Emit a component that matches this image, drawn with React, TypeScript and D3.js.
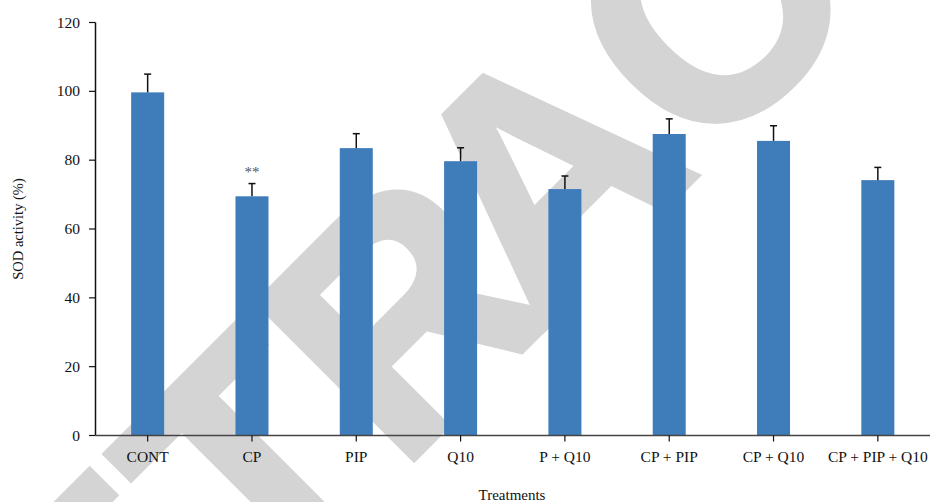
import React from "react";
import * as d3 from "d3";

const categories = ["CONT", "CP", "PIP", "Q10", "P + Q10", "CP + PIP", "CP + Q10", "CP + PIP + Q10"];
const means = [99.7, 69.5, 83.5, 79.7, 71.6, 87.6, 85.6, 74.2];
const errors = [5.3, 3.7, 4.2, 3.9, 3.8, 4.4, 4.4, 3.7];
const yTicks = [0, 20, 40, 60, 80, 100, 120];
const significance = ["", "**", "", "", "", "", "", ""];

const W = 930;
const H = 502;
const FONT = "'Liberation Serif', 'Times New Roman', serif";

export default function App() {
  const x = d3.scaleBand<string>().domain(categories).range([95.5, 930]).padding(0);
  const y = d3.scaleLinear().domain([0, 120]).range([435.5, 22.5]);
  const barW = 33;
  const capW = 7;

  return (
    <svg width={W} height={H} style={{ position: "absolute", left: 0, top: 0, background: "#fff" }}>
      {/* diagonal retraction stamp behind the chart */}
      <text
        transform="translate(-56.5,929.5) rotate(-45)"
        fontFamily="'Liberation Sans', Arial, sans-serif"
        fontWeight="bold"
        fontSize={322}
        fill="#d4d4d4"
        stroke="#d4d4d4"
        strokeWidth={6}
        strokeLinejoin="miter"
      >
        RETR<tspan dx={-35}>ACTED</tspan>
      </text>

      {/* bars */}
      {categories.map((c, i) => {
        const cx = (x(c) as number) + x.bandwidth() / 2;
        return (
          <rect key={c} x={cx - barW / 2} y={y(means[i])} width={barW} height={y(0) - y(means[i])} fill="#3e7cba" />
        );
      })}

      {/* error bars */}
      {categories.map((c, i) => {
        const cx = (x(c) as number) + x.bandwidth() / 2;
        const top = y(means[i] + errors[i]);
        return (
          <g key={c} stroke="#111" strokeWidth={1.5}>
            <line x1={cx} x2={cx} y1={y(means[i])} y2={top} />
            <line x1={cx - capW / 2} x2={cx + capW / 2} y1={top} y2={top} />
          </g>
        );
      })}

      {/* significance marks */}
      {categories.map((c, i) =>
        significance[i] ? (
          <text
            key={c}
            x={(x(c) as number) + x.bandwidth() / 2}
            y={y(means[i] + errors[i]) - 7}
            textAnchor="middle"
            fontFamily={FONT}
            fontSize={15}
            fill="#555"
          >
            {significance[i]}
          </text>
        ) : null
      )}

      {/* y axis */}
      <line x1={95.5} x2={95.5} y1={y(120)} y2={y(0)} stroke="#111" strokeWidth={1.5} />
      {yTicks.map((t) => (
        <g key={t}>
          <line x1={89} x2={95.5} y1={y(t)} y2={y(t)} stroke="#111" strokeWidth={1.2} />
          <text x={80} y={y(t) + 5} textAnchor="end" fontFamily={FONT} fontSize={15.5} fill="#111">
            {t}
          </text>
        </g>
      ))}

      {/* x axis */}
      <line x1={95.5} x2={930} y1={y(0)} y2={y(0)} stroke="#444" strokeWidth={1.6} />
      {categories.map((c) => {
        const cx = (x(c) as number) + x.bandwidth() / 2;
        return (
          <g key={c}>
            <line x1={cx} x2={cx} y1={y(0)} y2={y(0) + 6} stroke="#111" strokeWidth={1.2} />
            <text x={cx} y={462} textAnchor="middle" fontFamily={FONT} fontSize={15.5} fill="#111">
              {c}
            </text>
          </g>
        );
      })}

      {/* axis titles */}
      <text x={512} y={500} textAnchor="middle" fontFamily={FONT} fontSize={15} fill="#111">
        Treatments
      </text>
      <text
        transform={`translate(23,${(y(0) + y(120)) / 2}) rotate(-90)`}
        textAnchor="middle"
        fontFamily={FONT}
        fontSize={14.5}
        fill="#111"
      >
        SOD activity (%)
      </text>
    </svg>
  );
}
